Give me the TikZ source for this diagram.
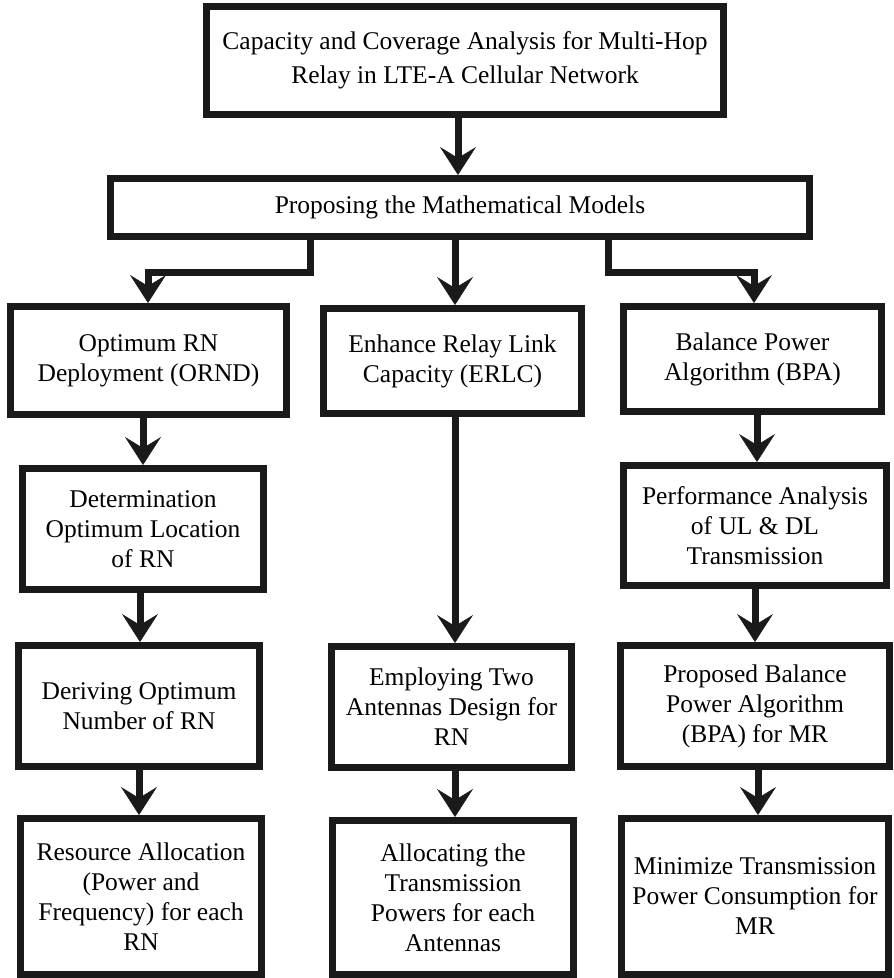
\documentclass[tikz,border=0pt]{standalone}
\usepackage{fontspec}
\setmainfont{Liberation Serif}
\newfontfamily\boxfont{Liberation Serif}
\usetikzlibrary{arrows.meta}
\definecolor{ink}{HTML}{1A1A1A}
\begin{document}
\begin{tikzpicture}[x=1pt,y=-1pt,
  box/.style={draw=ink, line width=7pt, fill=white, align=center, inner sep=0pt,
    font=\boxfont\fontsize{25.5}{30}\selectfont},
  arr/.style={draw=ink, line width=7pt, line join=miter,
    -{Stealth[length=28pt,width=36pt,inset=11pt,line width=0.5pt]}},
]
\useasboundingbox (0,0) rectangle (894,978);

% title and model boxes
\node[box, minimum width=517pt, minimum height=108pt, font=\boxfont\fontsize{25.5}{34}\selectfont]
  (title) at (465,60.5) {Capacity and Coverage Analysis for Multi-Hop\\Relay in LTE-A Cellular Network};
\node[box, minimum width=699pt, minimum height=58pt] (models) at (460,207.5)
  {Proposing the Mathematical Models};

% first row
\node[box, minimum width=276pt, minimum height=108pt] (ornd) at (148.5,360.5)
  {Optimum RN\\Deployment (ORND)};
\node[box, minimum width=258pt, minimum height=105pt] (erlc) at (452.5,361)
  {Enhance Relay Link\\Capacity (ERLC)};
\node[box, minimum width=258pt, minimum height=105pt] (bpa) at (752.5,359)
  {Balance Power\\Algorithm (BPA)};

% second row
\node[box, minimum width=241pt, minimum height=121pt] (loc) at (143,529)
  {Determination\\Optimum Location\\of RN};
\node[box, minimum width=263pt, minimum height=120pt] (perf) at (755,525.5)
  {Performance Analysis\\of UL \& DL\\Transmission};

% third row
\node[box, minimum width=241pt, minimum height=121pt] (num) at (139,706)
  {Deriving Optimum\\Number of RN};
\node[box, minimum width=240pt, minimum height=121pt] (ant) at (451.5,707)
  {Employing Two\\Antennas Design for\\RN};
\node[box, minimum width=269pt, minimum height=121pt] (pbpa) at (755,706)
  {Proposed Balance\\Power Algorithm\\(BPA) for MR};

% bottom row
\node[box, minimum width=241pt, minimum height=156pt] (res) at (141,896.5)
  {Resource Allocation\\(Power and\\Frequency) for each\\RN};
\node[box, minimum width=241pt, minimum height=154pt] (pow) at (453,897.5)
  {Allocating the\\Transmission\\Powers for each\\Antennas};
\node[box, minimum width=267pt, minimum height=156pt] (mini) at (755,896.5)
  {Minimize Transmission\\Power Consumption for\\MR};

% connectors
\draw[arr] (458,0 |- title.south) -- (458,0 |- models.north);
\draw[arr] (310,0 |- models.south) -- (310,272) -- (148,272) -- (148,0 |- ornd.north);
\draw[arr] (455,0 |- models.south) -- (455,0 |- erlc.north);
\draw[arr] (608,0 |- models.south) -- (608,272) -- (754,272) -- (754,0 |- bpa.north);

\draw[arr] (143,0 |- ornd.south) -- (143,0 |- loc.north);
\draw[arr] (140,0 |- loc.south) -- (140,0 |- num.north);
\draw[arr] (139,0 |- num.south) -- (139,0 |- res.north);

\draw[arr] (455,0 |- erlc.south) -- (455,0 |- ant.north);
\draw[arr] (455,0 |- ant.south) -- (455,0 |- pow.north);

\draw[arr] (757,0 |- bpa.south) -- (757,0 |- perf.north);
\draw[arr] (755,0 |- perf.south) -- (755,0 |- pbpa.north);
\draw[arr] (758,0 |- pbpa.south) -- (758,0 |- mini.north);
\end{tikzpicture}
\end{document}
